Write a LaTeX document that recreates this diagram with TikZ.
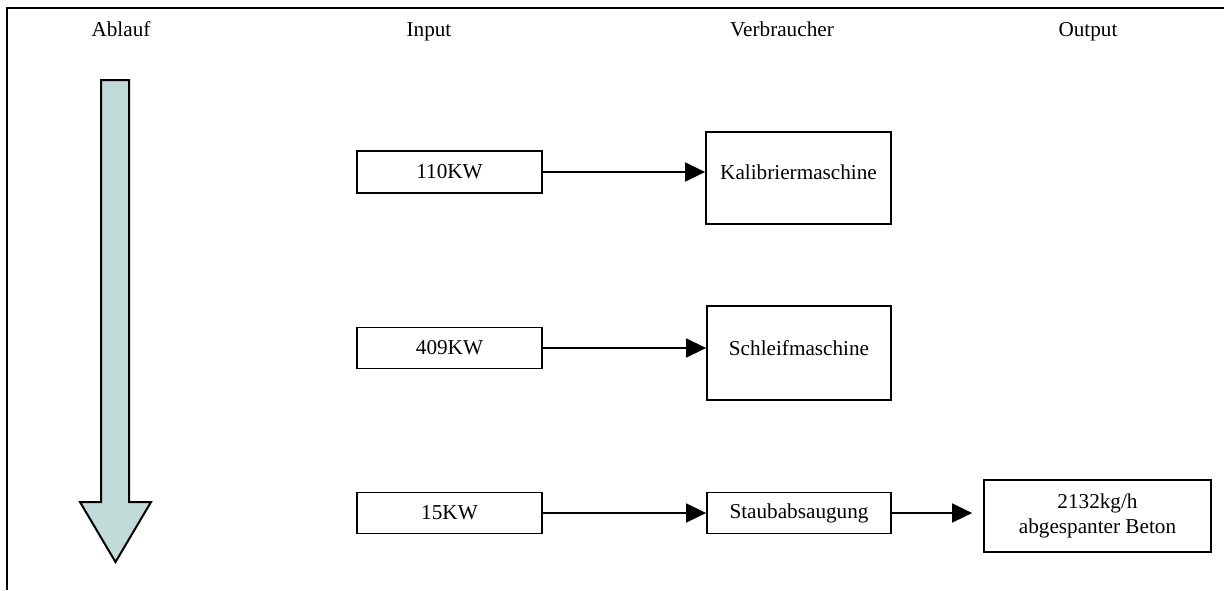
\documentclass[tikz,border=0pt]{standalone}
\usepackage{fontspec}
\setmainfont{Liberation Serif}
\usetikzlibrary{arrows.meta}
\definecolor{flowfill}{RGB}{193,220,216}
\tikzset{
  hdr/.style={font=\fontsize{10.6pt}{12.5pt}\selectfont, inner sep=0pt, anchor=base},
  box/.style={draw, line width=0.9pt, inner sep=0pt, align=center,
    font=\fontsize{10.6pt}{12.5pt}\selectfont},
  conn/.style={line width=0.8pt, -{Triangle[length=10pt,width=9.5pt]}},
}
\begin{document}
\begin{tikzpicture}[x=0.5pt,y=-0.5pt]
\useasboundingbox (0,0) rectangle (1224,590);
% frame
\draw[line width=0.9pt] (7,590) -- (7,8) -- (1224,8);
% headers
\node[hdr] (hA) at (121,36) {Ablauf};
\node[hdr] (hI) at (429,36) {Input};
\node[hdr] (hV) at (782,36) {Verbraucher};
\node[hdr] (hO) at (1088,36) {Output};
% big flow arrow
\draw[line width=1pt, fill=flowfill, line join=miter]
  (101,80) -- (129,80) -- (129,502) -- (151,502) -- (115.5,562)
  -- (80,502) -- (101,502) -- cycle;
% input boxes
\node[box, minimum width=92.5pt, minimum height=21pt] (in1) at (449.5,172) {110KW};
\node[box, minimum width=92.5pt, minimum height=20.5pt] (in2) at (449.5,348) {409KW};
\node[box, minimum width=92.5pt, minimum height=20.5pt] (in3) at (449.5,513) {15KW};
% consumers
\node[box, minimum width=92.5pt, minimum height=46pt, text depth=6pt] (c1) at (798.5,178) {Kalibriermaschine};
\node[box, minimum width=92pt, minimum height=47pt, text depth=5pt] (c2) at (799,353) {Schleifmaschine};
\node[box, minimum width=92pt, minimum height=20.5pt] (c3) at (799,513) {Staubabsaugung};
% output
\node[box, minimum width=113.5pt, minimum height=36pt] (out) at (1097.5,516) {2132kg/h\\abgespanter Beton};
% connectors
\draw[conn] (in1.east) -- (in1.east -| c1.west);
\draw[conn] (in2.east) -- (in2.east -| c2.west);
\draw[conn] (in3.east) -- (c3.west);
\draw[conn, shorten >=5.5pt] (c3.east) -- (c3.east -| out.west);
\end{tikzpicture}
\end{document}
